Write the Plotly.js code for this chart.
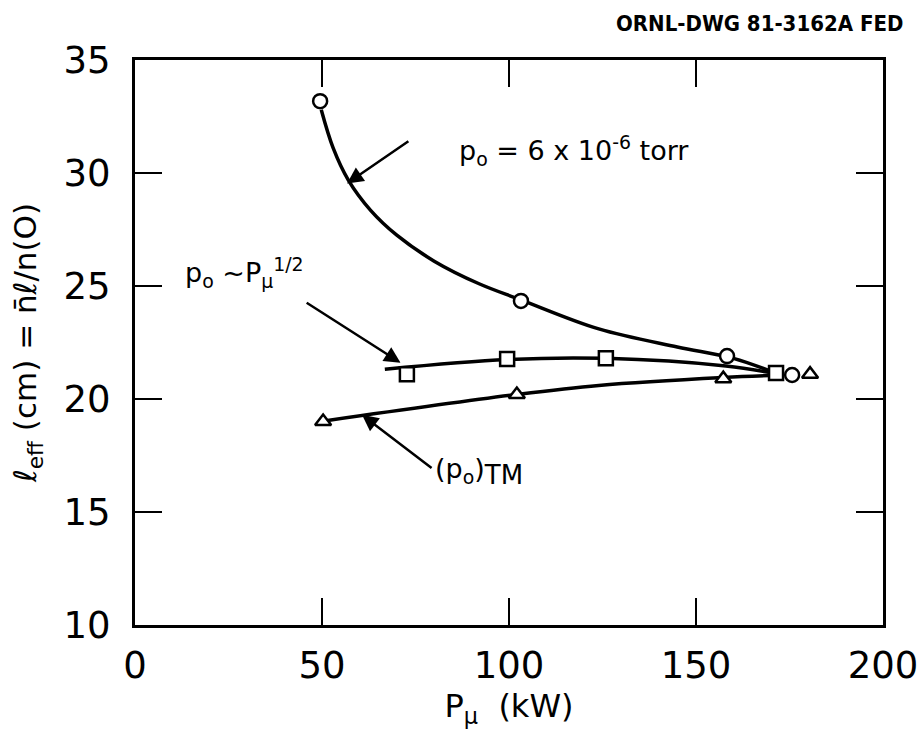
<!DOCTYPE html>
<html>
<head>
<meta charset="utf-8">
<script src="https://cdn.plot.ly/plotly-3.0.1.min.js"></script>
<style>html,body{margin:0;padding:0;background:#fff;}#chart{width:923px;height:739px;}</style>
</head>
<body>
<div id="chart"></div>
<script>
// Measured points
const circleX = [49.5, 103.2, 158.3, 175.7];
const circleY = [33.18, 24.34, 21.9, 21.06];
const squareX = [72.7, 99.5, 125.9, 171.4];
const squareY = [21.1, 21.77, 21.8, 21.15];
const triX = [50.3, 102.1, 157.3, 180.5];
const triY = [19.0, 20.2, 20.9, 21.1];

// Hand-drawn curves
const circleCurveX = [49.8, 53.0, 57.0, 63.0, 70.0, 80.0, 92.0, 103.0, 124.0, 145.0, 160.0, 172.0];
const circleCurveY = [32.8, 31.1, 29.7, 28.35, 27.25, 26.1, 25.1, 24.4, 23.1, 22.3, 21.8, 21.1];
const squareCurveX = [66.8, 99.5, 125.9, 158.0, 172.0];
const squareCurveY = [21.32, 21.75, 21.8, 21.46, 21.1];
const triCurveX = [51.5, 102.1, 124.0, 157.3, 172.0];
const triCurveY = [19.05, 20.2, 20.6, 20.95, 21.05];

const xTicks = [0, 50, 100, 150, 200];
const yTicks = [10, 15, 20, 25, 30, 35];

const FONT = 'DejaVu Sans, sans-serif';
const lineStyle = {color: 'black', width: 3.5, shape: 'spline', smoothing: 1.0};
const mk = (sym) => ({symbol: sym, size: 14, color: 'white', line: {color: 'black', width: 2.5}});

const data = [
  {x: circleCurveX, y: circleCurveY, mode: 'lines', line: lineStyle, hoverinfo: 'skip'},
  {x: squareCurveX, y: squareCurveY, mode: 'lines', line: lineStyle, hoverinfo: 'skip'},
  {x: triCurveX, y: triCurveY, mode: 'lines', line: lineStyle, hoverinfo: 'skip'},
  {x: circleX, y: circleY, mode: 'markers', marker: mk('circle')},
  {x: squareX, y: squareY, mode: 'markers', marker: mk('square')},
  {x: triX, y: triY, mode: 'markers', marker: mk('triangle-up')}
];

const axisCommon = {
  showgrid: false, zeroline: false, showline: true, linecolor: 'black', linewidth: 3,
  mirror: 'ticks', ticks: 'inside', ticklen: 27, tickwidth: 2.5, tickcolor: 'black',
  tickfont: {family: FONT, size: 37, color: 'black'}
};

const arrow = (x, y, ax, ay) => ({
  x: x, y: y, ax: ax, ay: ay, xref: 'x', yref: 'y', axref: 'x', ayref: 'y',
  text: '', showarrow: true, arrowhead: 2, arrowsize: 1.3, arrowwidth: 2.5, arrowcolor: 'black'
});

const layout = {
  width: 923, height: 739,
  margin: {l: 135, r: 40, t: 60, b: 114},
  paper_bgcolor: 'white', plot_bgcolor: 'white',
  showlegend: false,
  xaxis: Object.assign({}, axisCommon, {
    range: [0, 200], tickvals: xTicks, ticktext: xTicks.map(String), ticklabelstandoff: 6,
    title: {text: 'P<sub>μ</sub>  (kW)', font: {family: FONT, size: 32, color: 'black'}, standoff: 4}
  }),
  yaxis: Object.assign({}, axisCommon, {
    range: [10, 35], tickvals: yTicks, ticktext: yTicks.map(String), ticklabelstandoff: 14,
    title: {text: 'ℓ<sub>eff</sub> (cm) = n̄ℓ/n(O)', font: {family: FONT, size: 31, color: 'black'}, standoff: 18}
  }),
  annotations: [
    {x: 1, y: 1, xref: 'paper', yref: 'paper', xanchor: 'right', yanchor: 'bottom', yshift: 22, xshift: 22,
     text: '<b>ORNL-DWG 81-3162A FED</b>', showarrow: false,
     font: {family: 'DejaVu Sans Condensed, DejaVu Sans, sans-serif', size: 22, color: 'black'}},
    {x: 86, y: 31.0, xref: 'x', yref: 'y', xanchor: 'left', yanchor: 'middle', showarrow: false,
     text: 'p<sub>o</sub> = 6 x 10<sup>-6</sup> torr', font: {family: FONT, size: 27, color: 'black'}},
    {x: 12.8, y: 25.6, xref: 'x', yref: 'y', xanchor: 'left', yanchor: 'middle', showarrow: false,
     text: 'p<sub>o</sub> ~P<sub>μ</sub><sup>1/2</sup>', font: {family: FONT, size: 27, color: 'black'}},
    {x: 79.7, y: 16.8, xref: 'x', yref: 'y', xanchor: 'left', yanchor: 'middle', showarrow: false,
     text: '(p<sub>o</sub>)<sub><span style="font-size:26px">TM</span></sub>', font: {family: FONT, size: 27, color: 'black'}},
    arrow(56.7, 29.54, 73.5, 31.45),
    arrow(71.0, 21.6, 45.5, 24.3),
    arrow(60.7, 19.3, 79.7, 16.9)
  ]
};

Plotly.newPlot('chart', data, layout, {staticPlot: true});
</script>
</body>
</html>
